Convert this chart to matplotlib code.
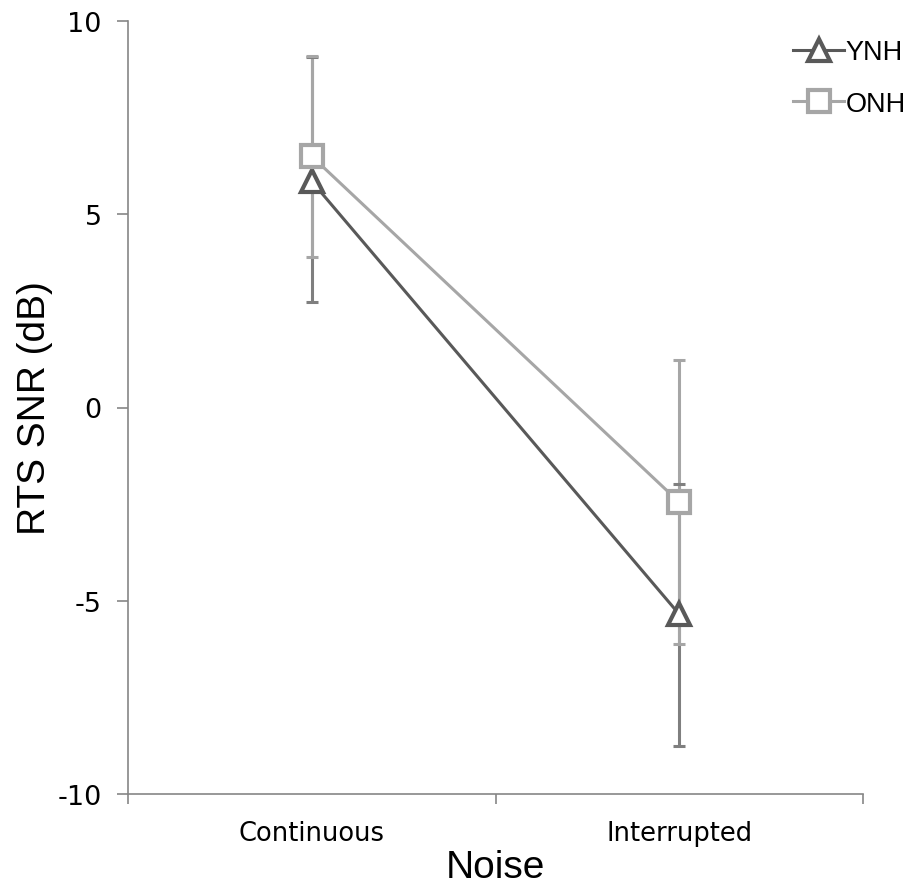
import matplotlib
matplotlib.use("Agg")
import matplotlib.pyplot as plt
import numpy as np

categories = ["Continuous", "Interrupted"]
ynh_mean = [5.85, -5.35]
ynh_err_low = [3.13, 3.4]
ynh_err_high = [3.22, 3.38]
onh_mean = [6.5, -2.45]
onh_err = [2.6, 3.68]
y_ticks = [-10, -5, 0, 5, 10]

fig = plt.figure(figsize=(9.17, 8.95), dpi=100)
ax = fig.add_axes([128/917, 1-795/895, (863-128)/917, (795-22)/895])

x = np.arange(len(categories)) + 0.5

c_ynh = "#595959"
c_ynh_err = "#7f7f7f"
c_onh = "#a6a6a6"
c_onh_err = "#a6a6a6"

e1 = ax.errorbar(x, ynh_mean, yerr=[ynh_err_low, ynh_err_high], fmt="none", ecolor=c_ynh_err,
                 elinewidth=2.2, capsize=4.5, capthick=2.2, zorder=2)
e2 = ax.errorbar(x, onh_mean, yerr=onh_err, fmt="none", ecolor=c_onh_err,
                 elinewidth=2.2, capsize=4.5, capthick=2.2, zorder=3)
for cl in list(e1[1]):
    cl.set_zorder(4)
for cl in list(e2[1]):
    cl.set_zorder(4.1)

ax.plot(x, ynh_mean, color=c_ynh, lw=2.2, marker="^", markersize=16,
        markerfacecolor="white", markeredgecolor=c_ynh, markeredgewidth=3,
        label="YNH", zorder=5)
ax.plot(x, onh_mean, color=c_onh, lw=2.2, marker="s", markersize=16,
        markerfacecolor="white", markeredgecolor=c_onh, markeredgewidth=3,
        label="ONH", zorder=5)

ax.set_xlim(0, 2)
ax.set_ylim(-10, 10)
ax.set_yticks(y_ticks)
ax.set_yticklabels([str(v) for v in y_ticks], fontsize=19.5, family="DejaVu Sans")
ax.set_xticks([0, 1, 2])
ax.set_xticklabels(["", "", ""])
ax.set_xticks(x, minor=True)
ax.set_xticklabels(categories, minor=True, fontsize=18.5, family="DejaVu Sans")
ax.tick_params(axis="x", which="minor", length=0, pad=19)
ax.tick_params(axis="x", which="major", length=7, width=1.2, color="#868686", direction="out")
ax.tick_params(axis="y", which="major", length=8, width=1.2, color="#868686", direction="out", pad=11)

for s in ["top", "right"]:
    ax.spines[s].set_visible(False)
for s in ["left", "bottom"]:
    ax.spines[s].set_color("#868686")
    ax.spines[s].set_linewidth(1.2)

ax.set_ylabel("RTS SNR (dB)", fontsize=28, family="Liberation Sans", labelpad=3)
ax.set_xlabel("Noise", fontsize=28, family="Liberation Sans", labelpad=2)

leg = ax.legend(loc="upper left", bbox_to_anchor=(793/917, 1-40/895),
                bbox_transform=fig.transFigure, frameon=False,
                prop={"family": "Liberation Sans", "size": 19.5},
                handlelength=1.9, handletextpad=0.05, labelspacing=0.95,
                markerscale=1.0, borderpad=0, borderaxespad=0)

fig.savefig("out.png", dpi=100)
